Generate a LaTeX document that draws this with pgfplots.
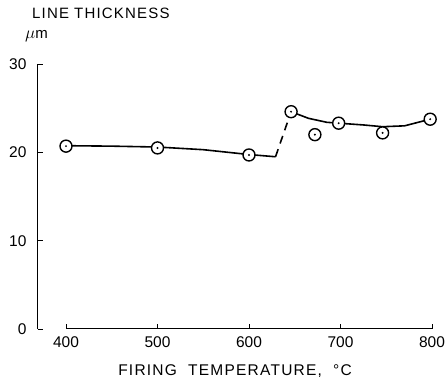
\documentclass[border=0pt]{standalone}
\usepackage{fontspec}
\setmainfont{Liberation Sans}
\newfontfamily\lab[LetterSpace=8]{Liberation Sans}
\usepackage{pgfplots}
\pgfplotsset{compat=1.18}
\pgfdeclareplotmark{odot}{%
  \pgfpathcircle{\pgfpointorigin}{\pgfplotmarksize}\pgfusepathqfillstroke
  \pgfscope
  \pgfsetfillcolor{black}%
  \pgfpathcircle{\pgfpointorigin}{1.1pt}\pgfusepathqfill
  \endpgfscope}
\begin{document}
\begin{tikzpicture}
\path[use as bounding box] (-38pt,-48pt) rectangle (409pt,329pt);
\begin{axis}[
  at={(0pt,0pt)}, anchor=south west,
  scale only axis, width=394pt, height=265pt,
  xmin=369.4, xmax=800, ymin=0, ymax=30,
  axis lines*=left,
  axis line style={line width=1pt, black},
  x axis line style={shorten <=28pt},
  xtick={400,500,600,700,800},
  ytick={0,10,20,30},
  tick align=inside,
  major tick length=5pt,
  tick style={line width=0.9pt, black},
  ticklabel style={font=\fontsize{15.5}{19}\selectfont},
  yticklabel style={xshift=-8pt},
  xticklabel style={yshift=-4pt},
  /pgf/number format/assume math mode=true,
  /pgf/number format/1000 sep={},
  clip=false,
]
% solid line, left part
\addplot[black, line width=1.6pt] coordinates {
  (400,20.75) (450,20.7) (500,20.6) (550,20.3) (600,19.75) (629,19.5)};
% dashed jump
\addplot[black, line width=1.6pt, dash pattern=on 8pt off 6pt] coordinates {
  (629,19.5) (646,24.6)};
% solid line, right part
\addplot[black, line width=1.6pt] coordinates {
  (646,24.6) (665,23.85) (685,23.4) (698,23.3) (725,23.1) (746,22.9) (770,23.0) (798,23.75)};
% measured points
\addplot[only marks, mark=odot, mark size=6pt, mark options={fill=white, draw=black, line width=1.4pt}] coordinates {
  (400,20.7) (500,20.5) (600,19.7) (646,24.6) (672,22.0) (698,23.3) (746,22.2) (798,23.75)};
\node[anchor=base] at (rel axis cs:0.5,0) [yshift=-46pt] {\fontsize{15.5}{19}\selectfont\lab FIRING\ \ TEMPERATURE, \ °C};
\node[anchor=base west, inner sep=0pt] at (rel axis cs:0,1) [xshift=-6pt, yshift=45pt] {\fontsize{15}{19}\selectfont\lab LINE\hspace{5pt}THICKNESS};
\node[anchor=base west, inner sep=0pt] at (rel axis cs:0,1) [xshift=-13pt, yshift=25pt] {\fontsize{19}{22}\selectfont$\mu$\fontsize{15}{19}\selectfont\lab m};
\end{axis}
\end{tikzpicture}
\end{document}
